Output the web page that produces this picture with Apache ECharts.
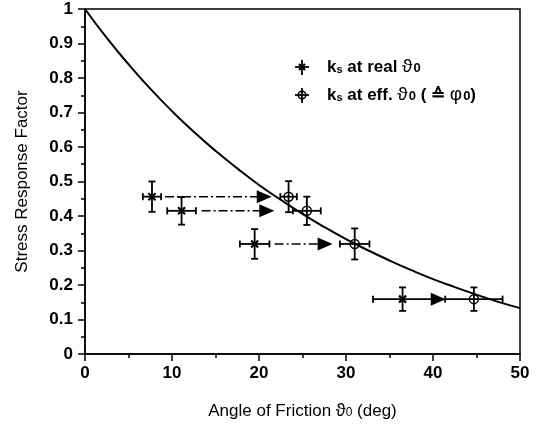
<!DOCTYPE html>
<html style="height: 100%">
<head>
	<meta charset="utf-8">
	<script type="text/javascript" src="https://cdn.jsdelivr.net/npm/echarts@6/dist/echarts.min.js"></script>
	<style>
	body{
		margin:0;
		background:#fff;
	}
	</style>
</head>
<body style="height: 100%; margin: 0">
	<div id="container" style="width:540px; height:428px;"></div>
	<script>
	// theoretical curve
	var curveX = [0, 2.5, 5, 7.5, 10, 12.5, 15, 17.5, 20, 22.5, 25, 27.5, 30, 32.5, 35, 37.5, 40, 42.5, 45, 47.5, 50];
	var curveY = [1, 0.916, 0.840, 0.769, 0.704, 0.644, 0.589, 0.538, 0.490, 0.447, 0.406, 0.368, 0.333, 0.301, 0.271, 0.243, 0.217, 0.194, 0.172, 0.151, 0.133];
	// ks at real theta0
	var realX = [7.7, 11.1, 19.5, 36.5];
	var realY = [0.456, 0.415, 0.319, 0.159];
	var realXErr = [1.05, 1.65, 1.7, 3.4];
	var realYErr = [0.044, 0.040, 0.043, 0.034];
	// ks at eff. theta0
	var effX = [23.4, 25.5, 31.0, 44.7];
	var effY = [0.456, 0.415, 0.319, 0.159];
	var effXErr = [0.95, 1.6, 1.7, 3.3];
	var effYErr = [0.045, 0.041, 0.045, 0.034];
	// shift arrows
	var arrowFrom = [9.2, 13.4, 21.8, 39.9];
	var arrowTo = [20.6, 20.9, 27.6, 40.6];
	var arrowY = [0.456, 0.415, 0.319, 0.159];

	var myChart = echarts.init(document.getElementById("container"));
	var font = 'Liberation Sans';

	function errBars(kind) {
		return function (params, api) {
			var x = api.value(0), y = api.value(1), ex = api.value(2), ey = api.value(3);
			var c = api.coord([x, y]);
			var l = api.coord([x - ex, y]), r = api.coord([x + ex, y]);
			var t = api.coord([x, y + ey]), b = api.coord([x, y - ey]);
			var st = {stroke: '#000', lineWidth: 1.8};
			var cap = 3.5;
			var ch = [
				{type: 'line', shape: {x1: l[0], y1: c[1], x2: r[0], y2: c[1]}, style: st},
				{type: 'line', shape: {x1: c[0], y1: t[1], x2: c[0], y2: b[1]}, style: st},
				{type: 'line', shape: {x1: l[0], y1: c[1] - cap, x2: l[0], y2: c[1] + cap}, style: st},
				{type: 'line', shape: {x1: r[0], y1: c[1] - cap, x2: r[0], y2: c[1] + cap}, style: st},
				{type: 'line', shape: {x1: c[0] - cap, y1: t[1], x2: c[0] + cap, y2: t[1]}, style: st},
				{type: 'line', shape: {x1: c[0] - cap, y1: b[1], x2: c[0] + cap, y2: b[1]}, style: st}
			];
			if (kind == 'real') {
				var m = {stroke: '#000', lineWidth: 2.2};
				ch.push({type: 'line', shape: {x1: c[0] - 3.5, y1: c[1] - 3.5, x2: c[0] + 3.5, y2: c[1] + 3.5}, style: m});
				ch.push({type: 'line', shape: {x1: c[0] - 3.5, y1: c[1] + 3.5, x2: c[0] + 3.5, y2: c[1] - 3.5}, style: m});
			} else {
				ch.push({type: 'circle', shape: {cx: c[0], cy: c[1], r: 4.5}, style: {fill: 'none', stroke: '#000', lineWidth: 1.5}});
			}
			return {type: 'group', children: ch};
		};
	}

	var arrowSeries = [];
	for (var i = 0; i < arrowFrom.length; i++) {
		arrowSeries.push({
			type: 'line',
			data: [[arrowFrom[i], arrowY[i]], [arrowTo[i], arrowY[i]]],
			showSymbol: false,
			silent: true,
			lineStyle: {color: '#000', width: 1.5, type: [9, 3, 2, 3]},
			z: 3
		});
	}

	var subRich = {
		n: {fontSize: 17, fontWeight: 'bold', fontFamily: font, color: '#000', lineHeight: 20},
		g: {fontSize: 19, fontFamily: font, color: '#000', lineHeight: 20, padding: [0, 1, 0, 0]},
		s: {fontSize: 11, fontWeight: 'bold', fontFamily: font, color: '#000', lineHeight: 20, verticalAlign: 'bottom', padding: [0, 0, 2, 0]},
		o: {fontSize: 13, fontWeight: 'bold', fontFamily: font, color: '#000', lineHeight: 20, verticalAlign: 'bottom', padding: [0, 0, 2, 0]}
	};

	function legendIcon(cx, cy, kind) {
		var st = {stroke: '#000', lineWidth: 1.8};
		var ch = [
			{type: 'line', shape: {x1: cx - 7, y1: cy, x2: cx + 7, y2: cy}, style: st},
			{type: 'line', shape: {x1: cx, y1: cy - 7, x2: cx, y2: cy + 8}, style: st}
		];
		if (kind == 'real') {
			ch.push({type: 'line', shape: {x1: cx - 3, y1: cy - 3, x2: cx + 3, y2: cy + 3}, style: {stroke: '#000', lineWidth: 2.2}});
			ch.push({type: 'line', shape: {x1: cx - 3, y1: cy + 3, x2: cx + 3, y2: cy - 3}, style: {stroke: '#000', lineWidth: 2.2}});
		} else {
			ch.push({type: 'circle', shape: {cx: cx, cy: cy, r: 3.8}, style: {fill: 'none', stroke: '#000', lineWidth: 1.5}});
		}
		return ch;
	}

	var option = {
		animation: false,
		grid: {left: 85, right: 20, top: 9, bottom: 74, show: true, borderColor: '#000', borderWidth: 1.5},
		xAxis: {
			type: 'value', min: 0, max: 50, interval: 10,
			name: 'Angle of Friction {g|ϑ}{s|0} (deg)',
			nameLocation: 'middle', nameGap: 48,
			nameTextStyle: {
				fontSize: 17, fontFamily: font, color: '#000',
				rich: {
					g: {fontSize: 18, fontFamily: font, color: '#000'},
					s: {fontSize: 12, fontFamily: font, color: '#000', verticalAlign: 'bottom', padding: [0, 0, 1, 0]}
				}
			},
			axisLine: {lineStyle: {color: '#000', width: 1.5}},
			axisTick: {length: 7, lineStyle: {color: '#000', width: 1.5}},
			minorTick: {show: true, splitNumber: 2, length: 4, lineStyle: {color: '#000', width: 1.5}},
			splitLine: {show: false},
			axisLabel: {margin: 11, fontSize: 17, fontWeight: 'bold', fontFamily: font, color: '#000'}
		},
		yAxis: {
			type: 'value', min: 0, max: 1, interval: 0.1,
			name: 'Stress Response Factor',
			nameLocation: 'middle', nameGap: 54,
			nameTextStyle: {fontSize: 17, fontFamily: font, color: '#000'},
			axisLine: {lineStyle: {color: '#000', width: 1.5}},
			axisTick: {length: 7, lineStyle: {color: '#000', width: 1.5}},
			minorTick: {show: true, splitNumber: 2, length: 4, lineStyle: {color: '#000', width: 1.5}},
			splitLine: {show: false},
			axisLabel: {margin: 12, fontSize: 17, fontWeight: 'bold', fontFamily: font, color: '#000'}
		},
		graphic: [
			{type: 'group', children: legendIcon(302, 67, 'real').concat(legendIcon(302, 95, 'eff'))},
			{type: 'text', x: 327, y: 57, style: {text: '{n|k}{s|s}{n| at real }{g|ϑ}{o|0}', rich: subRich}},
			{type: 'text', x: 327, y: 85, style: {text: '{n|k}{s|s}{n| at eff. }{g|ϑ}{o|0}{n| ( ≙ }{g|φ}{o|0}{n|)}', rich: subRich}}
		],
		series: [
			{
				type: 'line',
				data: curveX.map(function (x, i) { return [x, curveY[i]]; }),
				smooth: true,
				showSymbol: false,
				silent: true,
				lineStyle: {color: '#000', width: 2},
				z: 2
			},
			{
				type: 'custom',
				renderItem: errBars('real'),
				data: realX.map(function (x, i) { return [x, realY[i], realXErr[i], realYErr[i]]; }),
				z: 4
			},
			{
				type: 'custom',
				renderItem: errBars('eff'),
				data: effX.map(function (x, i) { return [x, effY[i], effXErr[i], effYErr[i]]; }),
				z: 4
			},
			{
				type: 'scatter',
				data: arrowTo.map(function (x, i) { return [x, arrowY[i]]; }),
				symbol: 'triangle',
				symbolSize: [13, 15],
				symbolRotate: -90,
				itemStyle: {color: '#000', opacity: 1},
				silent: true,
				z: 5
			}
		].concat(arrowSeries)
	};
	myChart.setOption(option);
	</script>
</body>
</html>
